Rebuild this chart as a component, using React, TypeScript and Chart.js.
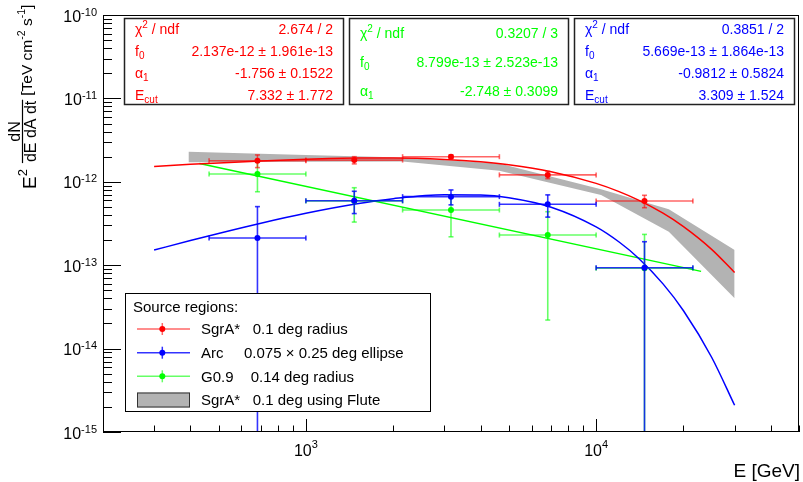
import React, { useEffect, useRef } from 'react';
import { Chart, registerables } from 'chart.js';

Chart.register(...registerables);

const FONT = '"Liberation Sans", Arial, Helvetica, sans-serif';

// ---- data ----
const binCenters = [681, 1468, 3162, 6813, 14678];
const binLow = [464, 1000, 2154, 4642, 10000];
const binHigh = [1000, 2154, 4642, 10000, 21544];

const sgrValues = [1.79e-12, 1.82e-12, 2.0e-12, 1.21e-12, 5.89e-13];
const sgrErrors = [0.31e-12, 0.18e-12, 0.1e-12, 0.12e-12, 1.0e-13];

const arcValues = [2.12e-13, 5.93e-13, 6.64e-13, 5.37e-13, 9.33e-14];
const arcErrors = [2.92e-13, 1.77e-13, 1.35e-13, 1.6e-13, 0.98e-13];

const g09Values = [1.24e-12, 5.89e-13, 4.59e-13, 2.3e-13, 9.2e-14];
const g09Errors = [0.48e-12, 2.6e-13, 2.4e-13, 2.08e-13, 1.42e-13];

const fitEnergies = [300, 400, 500, 700, 1000, 1500, 2000, 3000, 4000, 5000, 7000, 10000, 12000, 14000, 17000, 20000, 25000, 30000];
const sgrFit = [1.529e-12, 1.618e-12, 1.686e-12, 1.781e-12, 1.865e-12, 1.923e-12, 1.927e-12, 1.856e-12, 1.737e-12, 1.6e-12, 1.322e-12, 9.58e-13, 7.63e-13, 6.03e-13, 4.2e-13, 2.9e-13, 1.55e-13, 8.19e-14];
const arcFit = [1.519e-13, 1.975e-13, 2.405e-13, 3.19e-13, 4.191e-13, 5.445e-13, 6.276e-13, 7.013e-13, 6.951e-13, 6.449e-13, 4.964e-13, 2.883e-13, 1.897e-13, 1.213e-13, 5.97e-14, 2.846e-14, 7.88e-15, 2.09e-15];

const g09FitEnergies = [430, 23000];
const g09Fit = [1.654e-12, 8.43e-14];

const fluteEnergies = [394, 1000, 2154, 4642, 10400, 17800, 30000];
const fluteUpper = [2.3e-12, 2.09e-12, 1.95e-12, 1.66e-12, 8.13e-13, 4.68e-13, 1.52e-13];
const fluteLower = [1.71e-12, 1.74e-12, 1.75e-12, 1.36e-12, 6.95e-13, 2.52e-13, 4.01e-14];

const yTickExponents = [-10, -11, -12, -13, -14, -15];
const xTickExponents = [3, 4];

const statChi = ['2.674 / 2', '0.3207 / 3', '0.3851 / 2'];
const statF0 = ['2.137e-12 \u00b1 1.961e-13', '8.799e-13 \u00b1 2.523e-13', '5.669e-13 \u00b1 1.864e-13'];
const statAlpha = ['-1.756 \u00b1 0.1522', '-2.748 \u00b1 0.3099', '-0.9812 \u00b1 0.5824'];
const statEcut = ['7.332 \u00b1 1.772', '', '3.309 \u00b1 1.524'];

const legendHeader = 'Source regions:';
const legendNames = ['SgrA*', 'Arc', 'G0.9', 'SgrA*'];
const legendDescs = ['0.1 deg radius', '0.075 \u00d7 0.25 deg ellipse', '0.14 deg radius', '0.1 deg using Flute'];

// ---- styles / layout ----
const RED = '#ff0000';
const BLUE = '#0000ff';
const GREEN = '#00ff00';
const RED_BAR = 'rgba(255,0,0,0.6)';
const BLUE_BAR = 'rgba(0,0,255,0.8)';
const GREEN_BAR = 'rgba(0,255,0,0.6)';
const BAND = '#b3b3b3';

type Part = { t: string; s: number; dy?: number };

function richWidth(ctx: CanvasRenderingContext2D, parts: Part[]) {
  let w = 0;
  for (const p of parts) {
    ctx.font = `${p.s}px ${FONT}`;
    w += ctx.measureText(p.t).width;
  }
  return w;
}

function drawRich(ctx: CanvasRenderingContext2D, parts: Part[], x: number, y: number, align: 'left' | 'right' | 'center') {
  const w = richWidth(ctx, parts);
  let cx = align === 'right' ? x - w : align === 'center' ? x - w / 2 : x;
  ctx.textAlign = 'left';
  ctx.textBaseline = 'alphabetic';
  for (const p of parts) {
    ctx.font = `${p.s}px ${FONT}`;
    ctx.fillText(p.t, cx, y + (p.dy || 0));
    cx += ctx.measureText(p.t).width;
  }
}

function line(ctx: CanvasRenderingContext2D, x1: number, y1: number, x2: number, y2: number) {
  ctx.beginPath();
  ctx.moveTo(x1, y1);
  ctx.lineTo(x2, y2);
  ctx.stroke();
}

const pointSeries = [
  { index: 5, values: g09Values, errors: g09Errors, bar: GREEN_BAR },
  { index: 6, values: sgrValues, errors: sgrErrors, bar: RED_BAR },
  { index: 7, values: arcValues, errors: arcErrors, bar: BLUE_BAR },
];

const errorBarPlugin = {
  id: 'errorBars',
  beforeDatasetDraw(chart: any, args: any) {
    const s = pointSeries.find((p) => p.index === args.index);
    if (!s) return;
    const { ctx, chartArea: a } = chart;
    const xs = chart.scales.x;
    const ys = chart.scales.y;
    ctx.save();
    ctx.beginPath();
    ctx.rect(a.left, a.top, a.right - a.left, a.bottom - a.top);
    ctx.clip();
    ctx.strokeStyle = s.bar;
    ctx.lineWidth = 1.6;
    const cap = 2.5;
    for (let i = 0; i < binCenters.length; i++) {
      const v = s.values[i];
      const e = s.errors[i];
      const px = xs.getPixelForValue(binCenters[i]);
      const py = ys.getPixelForValue(v);
      const xl = xs.getPixelForValue(binLow[i]);
      const xh = xs.getPixelForValue(binHigh[i]);
      const yt = ys.getPixelForValue(v + e);
      const lowOk = v - e > 0;
      const yb = lowOk ? ys.getPixelForValue(v - e) : a.bottom + 2;
      line(ctx, xl, py, xh, py);
      line(ctx, xl, py - cap, xl, py + cap);
      line(ctx, xh, py - cap, xh, py + cap);
      line(ctx, px, yt, px, yb);
      line(ctx, px - cap, yt, px + cap, yt);
      if (lowOk) line(ctx, px - cap, yb, px + cap, yb);
    }
    ctx.restore();
  },
};

const decorPlugin = {
  id: 'decor',
  afterDraw(chart: any) {
    const { ctx, chartArea: a } = chart;
    const xs = chart.scales.x;
    const ys = chart.scales.y;
    ctx.save();
    ctx.fillStyle = '#000';
    ctx.strokeStyle = '#000';
    ctx.lineWidth = 1;

    // frame
    ctx.strokeRect(a.left + 0.5, a.top + 0.5, a.right - a.left - 1, a.bottom - a.top - 1);

    // x ticks
    for (let d = 2; d <= 4; d++) {
      for (let m = 1; m <= 9; m++) {
        const v = m * Math.pow(10, d);
        if (v < 200 || v > 50000) continue;
        const px = Math.round(xs.getPixelForValue(v)) + 0.5;
        const len = m === 1 ? 13 : 6.5;
        line(ctx, px, a.bottom, px, a.bottom - len);
      }
    }
    // y ticks
    for (let d = -15; d <= -10; d++) {
      for (let m = 1; m <= 9; m++) {
        if (d === -10 && m > 1) break;
        const v = m * Math.pow(10, d);
        const py = Math.round(ys.getPixelForValue(v)) + 0.5;
        const len = m === 1 ? 18 : 9;
        line(ctx, a.left, py, a.left + len, py);
      }
    }

    // tick labels
    for (const e of yTickExponents) {
      const py = ys.getPixelForValue(Math.pow(10, e));
      drawRich(ctx, [{ t: '10', s: 16 }, { t: String(e), s: 11, dy: -6 }], 97, py + 6.5, 'right');
    }
    for (const e of xTickExponents) {
      const px = xs.getPixelForValue(Math.pow(10, e));
      drawRich(ctx, [{ t: '10', s: 16 }, { t: String(e), s: 11, dy: -8.5 }], px, 456, 'center');
    }

    // x title
    drawRich(ctx, [{ t: 'E [GeV]', s: 19 }], 800, 477, 'right');

    // y title (rotated); canvas (X, Y) -> rotated (u=-Y, v=X)
    ctx.save();
    ctx.rotate(-Math.PI / 2);
    let u = -189;
    ctx.font = `19px ${FONT}`;
    ctx.fillText('E', u, 36);
    u += ctx.measureText('E').width;
    ctx.font = `13px ${FONT}`;
    ctx.fillText('2', u, 27);
    u += ctx.measureText('2').width + 6;
    ctx.font = `16px ${FONT}`;
    const denW = ctx.measureText('dE dA dt').width;
    const numW = ctx.measureText('dN').width;
    const fracW = denW + 2;
    ctx.fillText('dE dA dt', u + 1, 35.5);
    ctx.fillText('dN', u + (fracW - numW) / 2, 20);
    ctx.lineWidth = 1.2;
    line(ctx, u, 22.5, u + fracW, 22.5);
    u += fracW + 4;
    drawRich(ctx, [
      { t: '[TeV cm', s: 15.5 },
      { t: '-2', s: 10.5, dy: -7 },
      { t: ' s', s: 15.5 },
      { t: '-1', s: 10.5, dy: -7 },
      { t: ']', s: 15.5 },
    ], u, 32, 'left');
    ctx.restore();

    // stat boxes
    const boxX0 = [124, 349, 574];
    const boxX1 = [344, 569, 795];
    const boxY0 = 18;
    const boxY1 = 105;
    const colors = [RED, GREEN, BLUE];
    for (let b = 0; b < 3; b++) {
      ctx.fillStyle = '#fff';
      ctx.fillRect(boxX0[b], boxY0, boxX1[b] - boxX0[b], boxY1 - boxY0);
      ctx.strokeStyle = '#222';
      ctx.lineWidth = 1.5;
      ctx.strokeRect(boxX0[b] + 0.5, boxY0 + 0.5, boxX1[b] - boxX0[b] - 1, boxY1 - boxY0 - 1);
      const rows: { label: Part[]; value: string }[] = [
        { label: [{ t: '\u03c7', s: 14 }, { t: '2', s: 10, dy: -6 }, { t: ' / ndf', s: 14 }], value: statChi[b] },
        { label: [{ t: 'f', s: 14 }, { t: '0', s: 10, dy: 3 }], value: statF0[b] },
        { label: [{ t: '\u03b1', s: 14 }, { t: '1', s: 10, dy: 3 }], value: statAlpha[b] },
      ];
      if (statEcut[b]) rows.push({ label: [{ t: 'E', s: 14 }, { t: 'cut', s: 10, dy: 3 }], value: statEcut[b] });
      const h = (boxY1 - boxY0) / rows.length;
      ctx.fillStyle = colors[b];
      rows.forEach((r, i) => {
        const by = boxY0 + h * (i + 0.5) + 5.5;
        drawRich(ctx, r.label, boxX0[b] + 11, by, 'left');
        drawRich(ctx, [{ t: r.value, s: 14 }], boxX1[b] - 11, by, 'right');
      });
    }

    // legend
    const lx0 = 125, lx1 = 431, ly0 = 293, ly1 = 412;
    ctx.fillStyle = '#fff';
    ctx.fillRect(lx0, ly0, lx1 - lx0, ly1 - ly0);
    ctx.strokeStyle = '#000';
    ctx.lineWidth = 1;
    ctx.strokeRect(lx0 + 0.5, ly0 + 0.5, lx1 - lx0 - 1, ly1 - ly0 - 1);
    ctx.fillStyle = '#000';
    drawRich(ctx, [{ t: legendHeader, s: 15 }], 133, 311.5, 'left');
    const rowCy = [329, 352.7, 376.3, 399.5];
    const descX = [252.7, 244, 250.7, 252.7];
    const markColors = [RED, BLUE, GREEN];
    const barColors = [RED_BAR, BLUE_BAR, GREEN_BAR];
    for (let i = 0; i < 4; i++) {
      const cy = rowCy[i];
      if (i < 3) {
        ctx.strokeStyle = barColors[i];
        ctx.lineWidth = 1.5;
        line(ctx, 137, cy, 190, cy);
        line(ctx, 162.3, cy - 6, 162.3, cy + 6);
        ctx.fillStyle = markColors[i];
        ctx.beginPath();
        ctx.arc(162.3, cy, 3, 0, Math.PI * 2);
        ctx.fill();
      } else {
        ctx.fillStyle = BAND;
        ctx.fillRect(137, cy - 7, 53, 15);
        ctx.strokeStyle = '#333';
        ctx.lineWidth = 1;
        ctx.strokeRect(137.5, cy - 6.5, 52, 14);
      }
      ctx.fillStyle = '#000';
      drawRich(ctx, [{ t: legendNames[i], s: 15 }], 201, cy + 5.3, 'left');
      drawRich(ctx, [{ t: legendDescs[i], s: 15 }], descX[i], cy + 5.3, 'left');
    }
    ctx.restore();
  },
};

const toPts = (xs: number[], ys: number[]) => xs.map((x, i) => ({ x, y: ys[i] }));

const App = () => {
  const ref = useRef<HTMLCanvasElement>(null);
  useEffect(() => {
    document.body.style.margin = '0';
    const canvas = ref.current!;
    const chart = new Chart(canvas, {
      type: 'line',
      data: {
        datasets: [
          { label: 'Flute upper', data: toPts(fluteEnergies, fluteUpper), borderWidth: 0, borderColor: 'rgba(0,0,0,0)', pointRadius: 0, fill: '+1', backgroundColor: BAND, tension: 0, order: 20 } as any,
          { label: 'Flute lower', data: toPts(fluteEnergies, fluteLower), borderWidth: 0, borderColor: 'rgba(0,0,0,0)', pointRadius: 0, fill: false, tension: 0, order: 19 } as any,
          { label: 'SgrA fit', data: toPts(fitEnergies, sgrFit), borderColor: RED, borderWidth: 1.5, pointRadius: 0, fill: false, cubicInterpolationMode: 'monotone', order: 12 } as any,
          { label: 'Arc fit', data: toPts(fitEnergies, arcFit), borderColor: BLUE, borderWidth: 1.5, pointRadius: 0, fill: false, cubicInterpolationMode: 'monotone', order: 13 } as any,
          { label: 'G0.9 fit', data: toPts(g09FitEnergies, g09Fit), borderColor: GREEN, borderWidth: 1.5, pointRadius: 0, fill: false, tension: 0, order: 14 } as any,
          { label: 'G0.9', data: toPts(binCenters, g09Values), showLine: false, pointRadius: 3, pointBorderWidth: 0, pointBackgroundColor: GREEN, order: 5 } as any,
          { label: 'SgrA*', data: toPts(binCenters, sgrValues), showLine: false, pointRadius: 3, pointBorderWidth: 0, pointBackgroundColor: RED, order: 4 } as any,
          { label: 'Arc', data: toPts(binCenters, arcValues), showLine: false, pointRadius: 3, pointBorderWidth: 0, pointBackgroundColor: BLUE, order: 3 } as any,
        ],
      },
      options: {
        animation: false,
        responsive: false,
        devicePixelRatio: 1,
        events: [],
        layout: { padding: { left: 103, right: 3, top: 15, bottom: 50 } },
        scales: {
          x: { type: 'logarithmic', min: 200, max: 50000, display: false },
          y: { type: 'logarithmic', min: 1e-15, max: 1e-10, display: false },
        },
        plugins: { legend: { display: false }, tooltip: { enabled: false } },
      },
      plugins: [errorBarPlugin, decorPlugin],
    } as any);
    return () => chart.destroy();
  }, []);
  return <canvas ref={ref} width={803} height={482} style={{ display: 'block', width: '803px', height: '482px' }} />;
};

export default App;
